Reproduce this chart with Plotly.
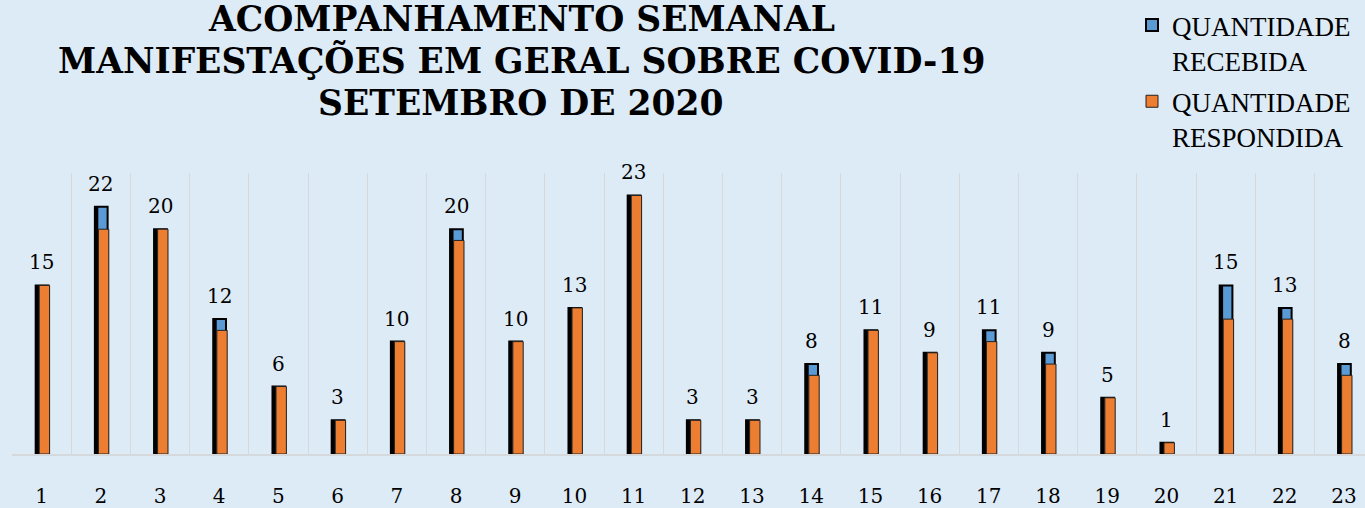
import plotly.graph_objects as go

categories = [str(i) for i in range(1, 24)]
recebida = [15, 22, 20, 12, 6, 3, 10, 20, 10, 13, 23, 3, 3, 8, 11, 9, 11, 9, 5, 1, 15, 13, 8]
respondida = [15, 20, 20, 11, 6, 3, 10, 19, 10, 13, 23, 3, 3, 7, 11, 9, 10, 8, 5, 1, 12, 12, 7]
title_lines = ["ACOMPANHAMENTO SEMANAL", "MANIFESTAÇÕES EM GERAL SOBRE COVID-19", "SETEMBRO DE 2020"]

BG = "#DDEBF7"
BLUE = "#5B9BD5"
ORANGE = "#ED7D31"

W, H = 1365, 508
ML, MR, MT, MB = 12, 0, 173, 54
PW = W - ML - MR
PH = H - MT - MB

fig = go.Figure()
fig.add_trace(go.Bar(
    x=categories, y=recebida, name="QUANTIDADE<br>RECEBIDA",
    marker=dict(color=BLUE, line=dict(color="black", width=2)),
    width=0.215, offset=-0.1, legendgroup="a",
))
fig.add_trace(go.Bar(
    x=categories, y=recebida, showlegend=False, hoverinfo="skip",
    marker=dict(color="black", line=dict(width=0)),
    width=0.065, offset=-0.107,
))
fig.add_trace(go.Bar(
    x=categories, y=respondida, name="QUANTIDADE<br>RESPONDIDA",
    marker=dict(color=ORANGE, line=dict(color="#222222", width=1)),
    width=0.175, offset=-0.04, legendgroup="b",
))

annotations = []
for i, v in enumerate(recebida):
    annotations.append(dict(
        x=i, y=v, xref="x", yref="y", text=str(v), showarrow=False,
        yanchor="middle", yshift=23,
        font=dict(family="DejaVu Serif", size=20, color="black"),
    ))

title_y = [19, 61, 103]
for t, yy in zip(title_lines, title_y):
    annotations.append(dict(
        x=(521 - ML) / PW, y=(H - MB - yy) / PH, xref="paper", yref="paper",
        text="<b>" + t + "</b>", showarrow=False, xanchor="center", yanchor="middle",
        font=dict(family="DejaVu Serif", size=34.5, color="black"),
    ))

fig.update_layout(
    width=W, height=H,
    margin=dict(l=ML, r=MR, t=MT, b=MB, pad=0, autoexpand=False),
    paper_bgcolor=BG, plot_bgcolor=BG,
    barmode="overlay",
    showlegend=True,
    legend=dict(
        xref="paper", yref="paper", x=(1132 - ML) / PW, y=(H - MB - 1) / PH,
        xanchor="left", yanchor="top",
        font=dict(family="Liberation Serif", size=27, color="black"),
        bgcolor="rgba(0,0,0,0)", valign="top",
        traceorder="grouped", tracegroupgap=3,
    ),
    annotations=annotations,
)
fig.update_xaxes(
    type="category", range=[-0.5, -0.5 + PW / 59.2],
    tickson="boundaries", showgrid=True, gridcolor="#D6D9DC", gridwidth=1,
    ticks="", showline=True, linecolor="#D6D9DC", linewidth=1.5,
    tickfont=dict(family="DejaVu Serif", size=20, color="black"),
    ticklabelstandoff=23, zeroline=False,
)
fig.update_yaxes(
    range=[0, 25], showgrid=False, showticklabels=False, zeroline=False, showline=False,
)

fig.write_html(
    "out.html",
    config={"displayModeBar": False},
    post_script="document.body.style.margin='0px';document.body.style.background='" + BG + "';",
)
